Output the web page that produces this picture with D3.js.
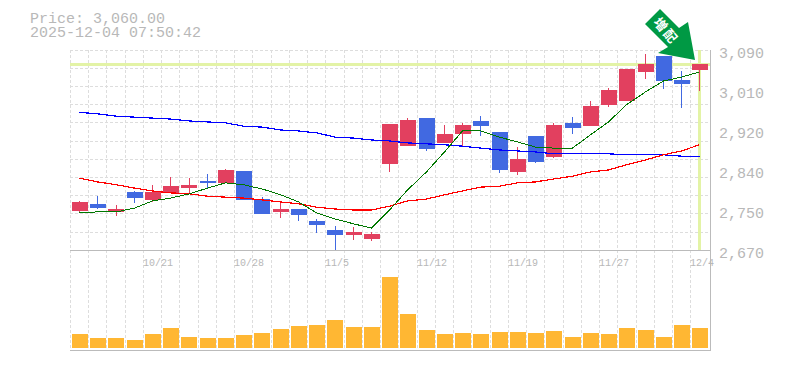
<!DOCTYPE html>
<html>
<head>
<meta charset="utf-8">
<script src="https://cdn.jsdelivr.net/npm/d3@7"></script>
<style>
  html, body { margin: 0; padding: 0; background: #fff; }
  text { font-family: "Liberation Mono", monospace; fill: #b8b8b8; }
</style>
</head>
<body>
<div id="chart"></div>
<script>
const dates = ["10/15","10/16","10/17","10/20","10/21","10/22","10/23","10/24","10/27","10/28","10/29","10/30","10/31","11/4","11/5","11/6","11/7","11/10","11/11","11/12","11/13","11/14","11/17","11/18","11/19","11/20","11/21","11/25","11/26","11/27","11/28","12/1","12/2","12/3","12/4"];
const labeledDates = ["10/21","10/28","11/5","11/12","11/19","11/27","12/4"];
const opens  = [2752,2767,2750,2792,2775,2790,2800,2815,2811,2836,2777,2750,2756,2731,2712,2702,2693,2851,2888,2947,2895,2914,2941,2918,2834,2909,2865,2937,2930,2975,2983,3044,3077,3027,3048];
const highs  = [2773,2783,2765,2794,2807,2823,2821,2830,2840,2836,2781,2771,2756,2735,2720,2718,2708,2935,2947,2947,2933,2937,2951,2918,2886,2909,2937,2949,2983,3010,3050,3082,3077,3046,3060];
const lows   = [2748,2756,2741,2769,2771,2790,2788,2800,2811,2775,2746,2737,2731,2706,2670,2691,2689,2834,2888,2878,2895,2888,2909,2832,2828,2853,2863,2914,2930,2970,2983,3029,3008,2968,3004];
const closes = [2771,2758,2756,2779,2792,2804,2807,2811,2838,2775,2746,2756,2744,2723,2702,2708,2704,2935,2943,2882,2914,2933,2930,2838,2861,2855,2933,2926,2972,3006,3050,3060,3025,3019,3060];
const ma5  = [2748,2750,2750,2758,2773,2779,2788,2800,2811,2807,2798,2786,2771,2748,2735,2725,2716,2754,2796,2834,2876,2920,2920,2907,2897,2886,2884,2884,2912,2939,2975,3002,3025,3033,3044];
const ma25 = [2821,2813,2807,2800,2794,2790,2788,2783,2781,2779,2775,2771,2767,2760,2756,2754,2754,2762,2773,2777,2786,2794,2802,2804,2811,2813,2819,2825,2834,2838,2849,2859,2870,2878,2891];
const ma75 = [2959,2956,2951,2949,2947,2945,2941,2939,2937,2930,2928,2922,2920,2916,2907,2905,2901,2899,2895,2893,2891,2888,2884,2880,2878,2876,2872,2872,2872,2872,2870,2870,2870,2867,2867];
const volumes = [14,10,10,8,14,20,11,10,10,13,15,19,22,23,28,21,21,71,34,18,14,15,14,16,16,15,17,11,15,14,20,18,11,23,20];
const priceTicks = [2670,2754,2838,2922,3006,3090];
const priceLabels = ["2,670","2,750","2,840","2,920","3,010","3,090"];
const gridPrices = [3090,3052,3014,2977,2939,2899,2861,2823,2786,2748,2708];
const lastPrice = 3060;
const titleLines = ["Price: 3,060.00","2025-12-04 07:50:42"];
const badgeText = "増配";

const svg = d3.select("#chart").append("svg")
  .attr("width", 785)
  .attr("height", 370)
  .style("display", "block");

const x = d3.scaleBand().domain(dates).range([70, 708.5]);
const y = d3.scaleLinear().domain([2670, 3090]).range([250, 50]);
const yVol = d3.scaleLinear().domain([0, 71]).range([348, 277]);

const left = d => Math.round(x(d));
const mid = d => Math.round(x(d) + x.bandwidth() / 2);
const yPx = v => Math.round(y(v));

const red = "#e2405f", blue = "#4169e1", grid = "#ddd", axis = "#bbb";

// grid
const g = svg.append("g").attr("stroke", grid).attr("stroke-dasharray", "3,2")
  .attr("shape-rendering", "crispEdges");
g.selectAll(".v").data(dates).enter().append("line")
  .attr("x1", d => left(d) + 0.5).attr("x2", d => left(d) + 0.5)
  .attr("y1", 50).attr("y2", 350);
g.selectAll(".h").data(gridPrices).enter().append("line")
  .attr("x1", 70).attr("x2", 710)
  .attr("y1", d => yPx(d) + 0.5).attr("y2", d => yPx(d) + 0.5);

// current price marker
svg.append("line").attr("x1", 70).attr("x2", 710)
  .attr("y1", y(lastPrice)).attr("y2", y(lastPrice))
  .attr("stroke", "#e3f3a6").attr("stroke-width", 3).attr("shape-rendering", "crispEdges");
svg.append("line").attr("x1", mid(dates[34]) + 0.5).attr("x2", mid(dates[34]) + 0.5)
  .attr("y1", 50).attr("y2", 250)
  .attr("stroke", "#e3f3a6").attr("stroke-width", 3).attr("shape-rendering", "crispEdges");

// frame
const frame = svg.append("g").attr("stroke", axis).attr("shape-rendering", "crispEdges");
frame.append("line").attr("x1", 70).attr("x2", 711).attr("y1", 250.5).attr("y2", 250.5);
frame.append("line").attr("x1", 70).attr("x2", 711).attr("y1", 350.5).attr("y2", 350.5);
frame.append("line").attr("x1", 710.5).attr("x2", 710.5).attr("y1", 50).attr("y2", 351);

// volume
svg.append("g").selectAll("rect").data(volumes).enter().append("rect")
  .attr("x", (d, i) => left(dates[i]) + 2)
  .attr("width", 16)
  .attr("y", d => yVol(d))
  .attr("height", d => 348 - yVol(d))
  .attr("fill", "#ffb733");

// candles
const idx = d3.range(dates.length);
const candles = svg.append("g").attr("shape-rendering", "crispEdges");
candles.selectAll("line").data(idx).enter().append("line")
  .attr("x1", i => mid(dates[i]) + 0.5).attr("x2", i => mid(dates[i]) + 0.5)
  .attr("y1", i => yPx(highs[i])).attr("y2", i => yPx(lows[i]))
  .attr("stroke", i => closes[i] >= opens[i] ? red : blue);
candles.selectAll("rect").data(idx).enter().append("rect")
  .attr("x", i => left(dates[i]) + 2)
  .attr("width", 16)
  .attr("y", i => yPx(Math.max(opens[i], closes[i])))
  .attr("height", i => yPx(Math.min(opens[i], closes[i])) - yPx(Math.max(opens[i], closes[i])))
  .attr("fill", i => closes[i] >= opens[i] ? red : blue);

// moving averages
const line = d3.line().x((d, i) => mid(dates[i]) + 0.5).y(d => y(d));
[[ma75, "#0000ff", 1.2], [ma25, "#ff0000", 1.2], [ma5, "#007700", 1]].forEach(s => {
  svg.append("path").attr("d", line(s[0])).attr("fill", "none")
    .attr("stroke", s[1]).attr("stroke-width", s[2]).attr("shape-rendering", "crispEdges");
});

// axes
const yAxis = d3.axisRight(y).tickValues(priceTicks)
  .tickFormat((d, i) => priceLabels[i]).tickSize(0).tickPadding(0);
const ya = svg.append("g").attr("transform", "translate(719,0)").call(yAxis);
ya.select(".domain").remove();
ya.selectAll("text").attr("font-size", 15).attr("dy", "0.5em").style("font-family", null);

svg.append("g").selectAll("text").data(labeledDates).enter().append("text")
  .attr("x", d => left(d))
  .attr("y", 266)
  .attr("font-size", 10)
  .text(d => d);

svg.append("g").selectAll("text").data(titleLines).enter().append("text")
  .attr("x", 30)
  .attr("y", (d, i) => 23 + i * 14)
  .attr("font-size", 15)
  .text(d => d);

// badge arrow
const arrow = svg.append("g");
arrow.append("path")
  .attr("d", "M660,9 L645,24 L668,47 L658,53 L695,60 L688,22 L679,28 Z")
  .attr("fill", "#009944");
arrow.append("text")
  .attr("transform", "translate(666,31) rotate(50)")
  .attr("text-anchor", "middle")
  .attr("dy", "0.35em")
  .attr("font-size", 13)
  .attr("letter-spacing", 2)
  .attr("font-weight", "bold")
  .style("font-family", "'Noto Sans CJK JP'")
  .style("fill", "#fff")
  .text(badgeText);
</script>
</body>
</html>
